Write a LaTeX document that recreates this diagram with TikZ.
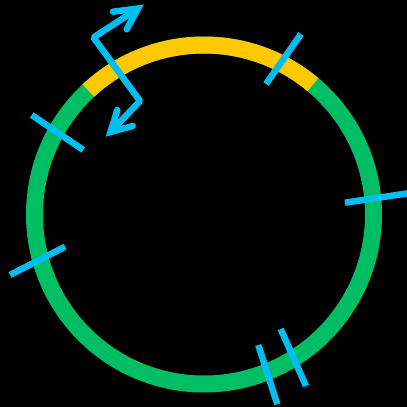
\documentclass[tikz,border=0pt]{standalone}
\definecolor{ringgreen}{HTML}{00BE64}
\definecolor{arcyellow}{HTML}{FFC800}
\definecolor{tickblue}{HTML}{00BEF0}
\begin{document}
\begin{tikzpicture}[x=1pt,y=-1pt,
  ring/.style={line width=17pt},
  tick/.style={draw=tickblue,line width=6.5pt},
  zig/.style={draw=tickblue,line width=6.5pt,line join=bevel},
  barb/.style={draw=tickblue,line width=6.5pt,line cap=round,line join=miter}]
\fill[black] (0,0) rectangle (407,407);
\useasboundingbox (0,0) rectangle (407,407);
\coordinate (c) at (204,214.5);
% ring
\draw[ring,draw=ringgreen] (c) circle[radius=169.5];
\draw[ring,draw=arcyellow] ([shift={(-50:169.5)}]c) arc[start angle=-50,end angle=-133,radius=169.5];
% ticks
\draw[tick] (301,34) -- (266,84);
\draw[tick] (31.7,115) -- (83.3,150);
\draw[tick] (65,246.7) -- (10,275);
\draw[tick] (345,202.7) -- (410,193);
\draw[tick] (258.3,345) -- (277.3,404.3);
\draw[tick] (280.7,329) -- (306,386);
% zigzag double arrow
\coordinate (ta) at (138,8.5);
\coordinate (a) at (93.5,37.5);
\coordinate (b) at (140,101);
\coordinate (tb) at (110.5,132);
\draw[zig] (ta) -- (a) -- (b) -- (tb);
\draw[barb] (113,11.7) -- (ta) -- (126.7,29.3);
\draw[barb] (117.3,110) -- (tb) -- (132.7,126);
\end{tikzpicture}
\end{document}
